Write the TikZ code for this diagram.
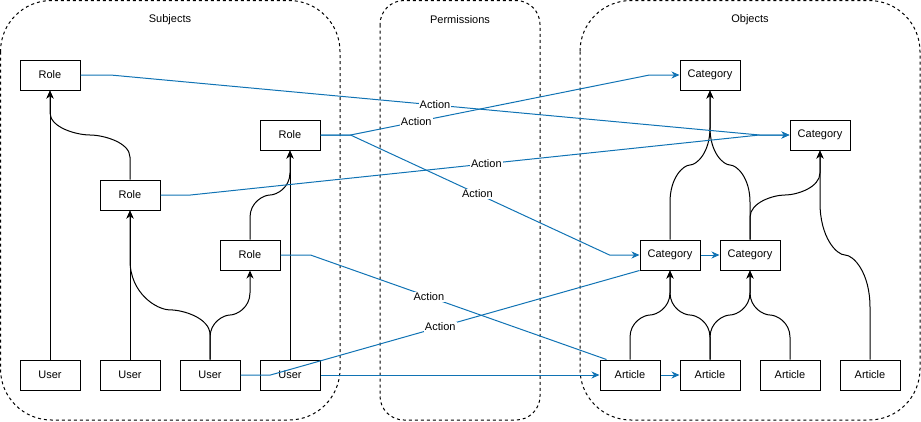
\documentclass[tikz,border=0pt]{standalone}
\usepackage{fontspec}
\setmainfont{Liberation Sans}
\usetikzlibrary{arrows.meta,calc}
\definecolor{actionblue}{RGB}{16,115,180}
\tikzset{
  box/.style={draw,fill=white,minimum width=60pt,minimum height=30pt,inner sep=0pt},
  group/.style={draw,dash pattern=on 3pt off 3pt},
  link/.style={-{Stealth[length=8pt,width=7pt,inset=2.5pt]}},
  action/.style={draw=actionblue},
  lbl/.style={fill=white,inner sep=1pt},
  curvy/.style={to path={
    let \p1=(\tikztostart), \p2=(\tikztotarget),
        \p3=($(\tikztostart)!#1!(\tikztostart|-\tikztotarget)$) in
    -- (\x1,{(\y1+\y3)/2})
    .. controls (\x1,{(\y1+5*\y3)/6}) and ({(2*\x1+\x2)/3},\y3) .. ({(\x1+\x2)/2},\y3)
    .. controls ({(\x1+2*\x2)/3},\y3) and (\x2,{(5*\y3+\y2)/6}) .. (\x2,{(\y3+\y2)/2})
    -- (\tikztotarget)}},
  curvy/.default=0.5
}
\begin{document}
\begin{tikzpicture}[x=1pt,y=-1pt,line width=1pt,font=\fontsize{11}{13}\selectfont]
  \useasboundingbox (0,0) rectangle (921,421);
  % groups
  \draw[group,rounded corners=51pt] (0.5,0.5) rectangle (340,420);
  \draw[group,rounded corners=24pt] (380,0.5) rectangle (540,420);
  \draw[group,rounded corners=51pt] (580,0.5) rectangle (920,420);
  \node (subjects) at (170,20) {Subjects};
  \node (permissions) at (460,20) {Permissions};
  \node (objects) at (750,20) {Objects};

  % subjects
  \node[box] (role1) at (50,75) {Role};
  \node[box] (role2) at (130,195) {Role};
  \node[box] (role3) at (290,135) {Role};
  \node[box] (role4) at (250,255) {Role};
  \node[box] (user1) at (50,375) {User};
  \node[box] (user2) at (130,375) {User};
  \node[box] (user3) at (210,375) {User};
  \node[box] (user4) at (290,375) {User};

  % objects
  \node[box] (cat1) at (710,75) {Category};
  \node[box] (cat2) at (820,135) {Category};
  \node[box] (cat3) at (670,255) {Category};
  \node[box] (cat4) at (750,255) {Category};
  \node[box] (art1) at (630,375) {Article};
  \node[box] (art2) at (710,375) {Article};
  \node[box] (art3) at (790,375) {Article};
  \node[box] (art4) at (870,375) {Article};

  % hierarchy
  \draw[link] (user1.north) -- (role1.south);
  \draw[link] (role2.north) to[curvy] (role1.south);
  \draw[link] (user2.north) -- (role2.south);
  \draw[link] (user3.north) to[curvy=0.333] (role2.south);
  \draw[link] (user3.north) to[curvy] (role4.south);
  \draw[link] (role4.north) to[curvy] (role3.south);
  \draw[link] (user4.north) -- (role3.south);

  \draw[link] (cat3.north) to[curvy] (cat1.south);
  \draw[link] (cat4.north) to[curvy] (cat1.south);
  \draw[link] (cat4.north) to[curvy] (cat2.south);
  \draw[link] (art4.north) to[curvy] (cat2.south);
  \draw[link] (art1.north) to[curvy] (cat3.south);
  \draw[link] (art2.north) to[curvy] (cat3.south);
  \draw[link] (art2.north) to[curvy] (cat4.south);
  \draw[link] (art3.north) to[curvy] (cat4.south);

  % permissions
  \draw[action,link] (role1.east) -- ++(30,0) -- node[lbl,pos=0.5]{Action} ([xshift=-30pt]cat2.west) -- (cat2.west);
  \draw[action,link] (role3.east) -- ++(30,0) -- node[lbl,pos=0.22]{Action} ([xshift=-30pt]cat1.west) -- (cat1.west);
  \draw[action,link] (role3.east) -- ++(30,0) -- node[lbl,pos=0.49]{Action} ([xshift=-30pt]cat3.west) -- (cat3.west);
  \draw[action,link] (role2.east) -- ++(30,0) -- node[lbl,pos=0.52]{Action} ([xshift=-30pt]cat2.west) -- (cat2.west);
  \draw[action] (role4.east) -- ++(30,0) -- node[lbl,pos=0.4]{Action} ([xshift=7pt]art1.north west);
  \draw[action] (user3.east) -- ++(30,0) -- node[lbl,pos=0.46]{Action} (cat3.south west);
  \draw[action,link] (user4.east) -- (art1.west);
  \draw[action,link] (cat3.east) -- (cat4.west);
  \draw[action,link] (art1.east) -- (art2.west);
\end{tikzpicture}
\end{document}
